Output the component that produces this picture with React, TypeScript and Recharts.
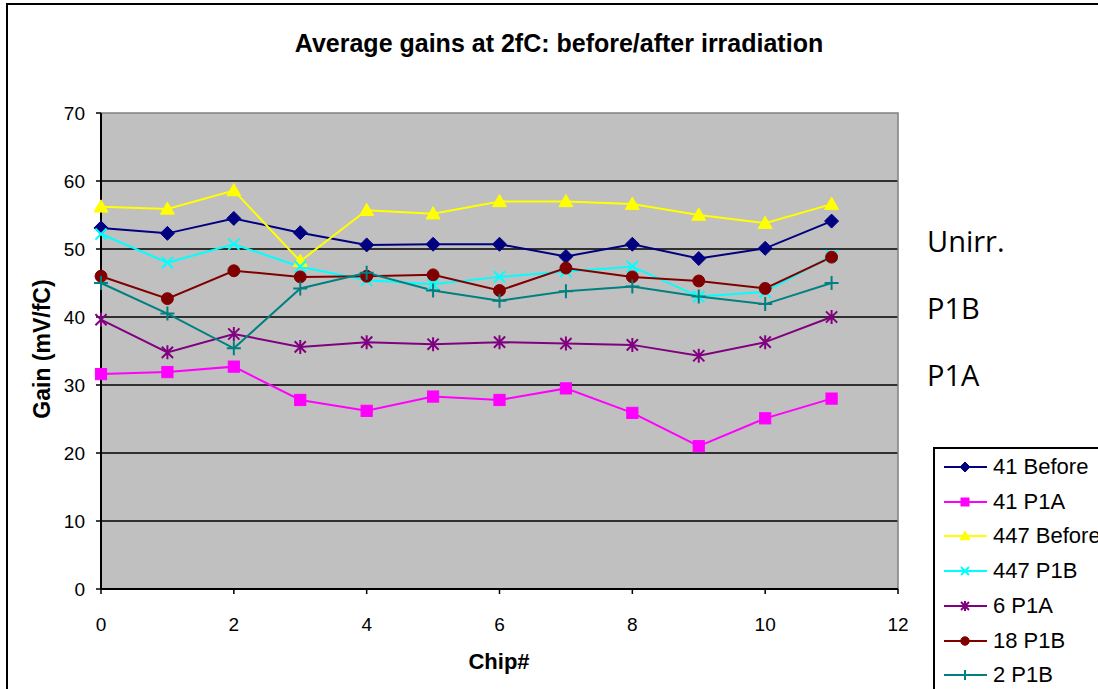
import React from 'react'
import { LineChart, Line, XAxis, YAxis, CartesianGrid, ReferenceArea } from 'recharts'

const chips = [0, 1, 2, 3, 4, 5, 6, 7, 8, 9, 10, 11]
const before41 = [53.1, 52.3, 54.5, 52.4, 50.6, 50.7, 50.7, 48.9, 50.7, 48.6, 50.1, 54.1]
const p1a41 = [31.6, 31.9, 32.7, 27.8, 26.2, 28.3, 27.8, 29.5, 25.9, 21.0, 25.1, 28.0]
const before447 = [56.2, 55.9, 58.6, 48.2, 55.7, 55.2, 57.0, 57.0, 56.6, 55.0, 53.8, 56.6]
const p1b447 = [52.2, 48.0, 50.7, 47.4, 45.4, 44.8, 45.9, 46.7, 47.4, 43.0, 43.7, 49.0]
const p1a6 = [39.6, 34.8, 37.5, 35.6, 36.3, 36.0, 36.3, 36.1, 35.9, 34.3, 36.3, 40.0]
const p1b18 = [46.0, 42.7, 46.8, 45.9, 46.0, 46.2, 43.9, 47.2, 45.9, 45.3, 44.2, 48.8]
const p1b2 = [45.0, 40.5, 35.4, 44.2, 46.5, 43.9, 42.4, 43.8, 44.5, 43.0, 41.9, 45.0]

const xTicks = [0, 2, 4, 6, 8, 10, 12]
const yTicks = [0, 10, 20, 30, 40, 50, 60, 70]
const annotations = ['Unirr.', 'P1B', 'P1A']

const series = [
  { key: 'b41', name: '41 Before', values: before41, color: '#000080', shape: 'diamond' },
  { key: 'a41', name: '41 P1A', values: p1a41, color: '#FF00FF', shape: 'square' },
  { key: 'b447', name: '447 Before', values: before447, color: '#FFFF00', shape: 'triangle' },
  { key: 'c447', name: '447 P1B', values: p1b447, color: '#00FFFF', shape: 'x' },
  { key: 'a6', name: '6 P1A', values: p1a6, color: '#800080', shape: 'star' },
  { key: 'c18', name: '18 P1B', values: p1b18, color: '#800000', shape: 'circle' },
  { key: 'c2', name: '2 P1B', values: p1b2, color: '#008080', shape: 'plus' },
]

const data = chips.map((c, i) => {
  const row: any = { chip: c }
  series.forEach(s => { row[s.key] = s.values[i] })
  return row
})

const font = '"Liberation Sans", Arial, sans-serif'

function Marker({ shape, color, cx, cy, r }: any) {
  if (shape === 'diamond') return <path d={`M${cx},${cy - r}L${cx + r},${cy}L${cx},${cy + r}L${cx - r},${cy}Z`} fill={color} stroke={color} />
  if (shape === 'square') return <rect x={cx - r * 0.8} y={cy - r * 0.8} width={r * 1.6} height={r * 1.6} fill={color} stroke={color} />
  if (shape === 'triangle') return <path d={`M${cx},${cy - r}L${cx + r},${cy + r * 0.75}L${cx - r},${cy + r * 0.75}Z`} fill={color} stroke={color} />
  if (shape === 'circle') return <circle cx={cx} cy={cy} r={r * 0.85} fill={color} stroke={color} />
  const d = r * 0.8
  if (shape === 'x') return <path d={`M${cx - d},${cy - d}L${cx + d},${cy + d}M${cx - d},${cy + d}L${cx + d},${cy - d}`} stroke={color} strokeWidth={2} fill="none" />
  if (shape === 'plus') return <path d={`M${cx - r},${cy}L${cx + r},${cy}M${cx},${cy - r}L${cx},${cy + r}`} stroke={color} strokeWidth={2} fill="none" />
  // star: x plus vertical bar
  return <path d={`M${cx - d},${cy - d}L${cx + d},${cy + d}M${cx - d},${cy + d}L${cx + d},${cy - d}M${cx},${cy - r}L${cx},${cy + r}`} stroke={color} strokeWidth={2} fill="none" />
}

function makeDot(shape: string, color: string) {
  return (p: any) => (
    <g key={`${shape}-${p.index}`}>
      <Marker shape={shape} color={color} cx={p.cx} cy={p.cy} r={7} />
    </g>
  )
}

export default function App() {
  return (
    <div style={{ position: 'fixed', left: 0, top: 0, width: 1098, height: 689, background: '#fff', overflow: 'hidden', fontFamily: font }}>
      <div style={{ position: 'absolute', left: 6, top: 3, width: 1200, height: 900, border: '2px solid #000' }} />
      <div style={{ position: 'absolute', left: 0, width: 1118, top: 29, textAlign: 'center', fontSize: 25, fontWeight: 'bold' }}>
        Average gains at 2fC: before/after irradiation
      </div>
      <LineChart width={1098} height={689} data={data} margin={{ top: 113, right: 200, bottom: 60, left: 41 }} style={{ position: 'absolute', left: 0, top: 0 }}>
        <CartesianGrid fill="#C0C0C0" vertical={false} stroke="#000" strokeWidth={1.5} horizontalValues={[10, 20, 30, 40, 50, 60]} />
        <ReferenceArea x1={0} x2={12} y1={0} y2={70} fill="none" stroke="#808080" strokeWidth={1.5} />
        <XAxis dataKey="chip" type="number" domain={[0, 12]} ticks={xTicks} height={40} tickSize={5} tickMargin={24}
          axisLine={{ stroke: '#000', strokeWidth: 2 }} tickLine={{ stroke: '#000', strokeWidth: 1.5 }}
          tick={{ fontSize: 19, fill: '#000', fontFamily: font }} />
        <YAxis type="number" domain={[0, 70]} ticks={yTicks} width={60} tickSize={5} tickMargin={11}
          axisLine={{ stroke: '#000', strokeWidth: 2 }} tickLine={{ stroke: '#000', strokeWidth: 1.5 }}
          tick={{ fontSize: 19, fill: '#000', fontFamily: font }} />
        {series.map(s => (
          <Line key={s.key} dataKey={s.key} stroke={s.color} strokeWidth={2} isAnimationActive={false}
            dot={makeDot(s.shape, s.color)} activeDot={false} />
        ))}
      </LineChart>
      <div style={{ position: 'absolute', left: 42, top: 349, transform: 'translate(-50%, -50%) rotate(-90deg)', fontSize: 23, fontWeight: 'bold', whiteSpace: 'nowrap' }}>
        Gain (mV/fC)
      </div>
      <div style={{ position: 'absolute', left: 499, top: 649, transform: 'translateX(-50%)', fontSize: 22, fontWeight: 'bold' }}>
        Chip#
      </div>
      {annotations.map((a, i) => (
        <div key={a} style={{ position: 'absolute', left: 927, top: 221 + i * 67, fontSize: 29, fontFamily: '"Open Sans", sans-serif', lineHeight: '40px' }}>
          {a}
        </div>
      ))}
      <div style={{ position: 'absolute', left: 933, top: 447, width: 220, height: 260, border: '2px solid #000', background: '#fff' }}>
        {series.map((s, i) => (
          <div key={s.key} style={{ position: 'absolute', left: 7, top: 3 + i * 34.7, height: 30, display: 'flex', alignItems: 'center' }}>
            <svg width={45} height={30}>
              <line x1={2} y1={15} x2={45} y2={15} stroke={s.color} strokeWidth={2} />
              <Marker shape={s.shape} color={s.color} cx={23} cy={15} r={5} />
            </svg>
            <span style={{ marginLeft: 6, fontSize: 22, whiteSpace: 'nowrap' }}>{s.name}</span>
          </div>
        ))}
      </div>
    </div>
  )
}
